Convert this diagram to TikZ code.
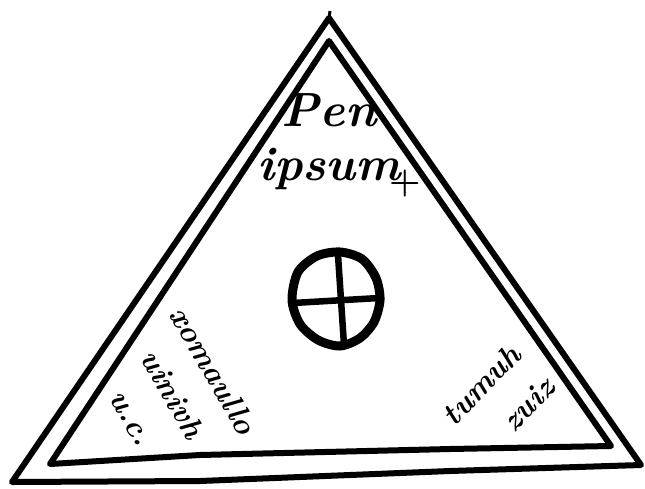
\documentclass[tikz,border=0pt]{standalone}
\begin{document}
\begin{tikzpicture}[x=1pt,y=-1pt,
  tri/.style={line width=6pt,line join=round,line cap=round},
  ring/.style={line width=9pt},
  bar/.style={line width=6.5pt,line cap=round},
  hand/.style={font=\fontsize{48}{54}\selectfont\bfseries\itshape,inner sep=0pt,align=center},
  handside/.style={font=\fontsize{31}{47}\selectfont\bfseries\itshape,inner sep=0pt,align=center}]
\useasboundingbox (0,0) rectangle (645,488);
% outer triangle
\coordinate (oA) at (329,18);
\coordinate (oL) at (12,482);
\coordinate (oR) at (641,465);
\coordinate (ob1) at (200,481);
\coordinate (ob2) at (450,471);
\draw[tri] (oA) -- (oR) -- (ob2) -- (ob1) -- (oL) -- cycle;
\coordinate (tick) at (330,11);
\draw[line width=3pt] (oA) -- (tick);
% inner triangle
\coordinate (iA) at (329,41);
\coordinate (iL) at (50,464);
\coordinate (iR) at (611,446);
\coordinate (ib1) at (200,455);
\coordinate (ib2) at (450,449);
\draw[tri] (iA) -- (iR) -- (ib2) -- (ib1) -- (iL) -- cycle;
% circle with cross
\draw[ring] plot[smooth cycle] coordinates {(292,300) (298,272) (317,256) (340,252) (362,259) (376,278) (380,300) (374,322) (360,338) (340,346) (318,340) (300,324)};
\coordinate (vt) at (338,255);
\coordinate (vb) at (344,345);
\coordinate (hl) at (293,303);
\coordinate (hr) at (379,298);
\draw[bar] (vt) -- (vb);
\draw[bar] (hl) -- (hr);
% texts
\node[hand] (top) at (329,142) {Pen\\ipsum};
\node[font=\fontsize{36}{38}\selectfont\bfseries,inner sep=0pt] (plus) at (405,184) {+};
\node[handside,rotate=-60] (left) at (173,394) {xomaullo\\uinivh\\u.c.};
\node[handside,rotate=46] (right) at (498,401) {tumuh\\\hspace*{1.2em}zuiz};
\end{tikzpicture}
\end{document}
